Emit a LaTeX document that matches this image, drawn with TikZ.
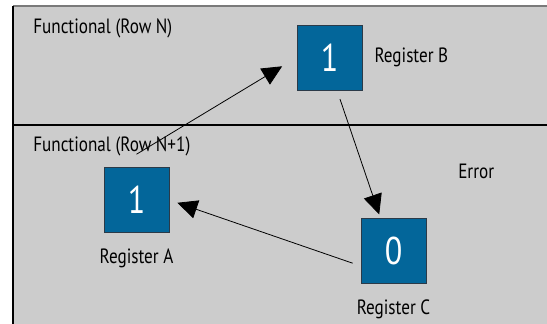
\documentclass[tikz,border=0pt]{standalone}
\usepackage{fontspec}
\setmainfont[FakeStretch=0.83]{PT Sans}
\usetikzlibrary{positioning, arrows.meta, calc}
\definecolor{panelgray}{HTML}{CCCCCC}
\definecolor{regblue}{HTML}{03669A}
\definecolor{regedge}{HTML}{2B3A48}
\definecolor{rimgray}{HTML}{7A7A7A}

\begin{document}
\begin{tikzpicture}[
    x=0.75pt, y=-0.75pt,
    reg/.style={draw=regedge, fill=regblue, minimum size=48.75pt, inner sep=0pt, text=white, font=\fontsize{29}{29}\selectfont},
    lbl/.style={inner sep=0pt, font=\fontsize{15.5}{17}\selectfont},
    flow/.style={-{Triangle[length=15pt, width=14pt]}, line width=0.6pt}
]
    \useasboundingbox (0,0) rectangle (547,324);
    % Panel and row divider
    \fill[panelgray] (13,6) rectangle (547,324);
    \draw[rimgray, line width=1.2pt] (13,6) -- (547,6);
    \draw[line width=0.9pt] (13,6) -- (13,324);
    \draw[line width=0.8pt] (13,125) -- (547,125);

    % Row labels
    \node[lbl, anchor=base west] (rowN) at (33,34) {Functional (Row N)};
    \node[lbl, anchor=base west] (rowN1) at (33,152) {Functional (Row N+1)};
    \node[lbl, anchor=base west] (err) at (458,179) {Error};

    % Registers
    \node[reg] (regB) at (329.5,57.5) {1};
    \node[reg] (regA) at (136.5,200) {1};
    \node[reg] (regC) at (393.5,251) {0};

    \node[lbl] (labB) [right=9pt of regB] {Register B};
    \node[lbl] (labA) [below=12pt of regA] {Register A};
    \node[lbl] (labC) [below=12pt of regC] {Register C};

    % Flow between registers
    \draw[flow, shorten >=12.75pt] ($(regA.north)+(0,-13)$) -- (regB.west);
    \draw[flow, shorten <=7pt, shorten >=3pt] ($(regB.south)+(7.5,0)$) -- ($(regC.north)+(-13,0)$);
    \draw[flow, shorten <=6.4pt, shorten >=6.4pt] ($(regC.west)+(0,15)$) -- (regA.east);
\end{tikzpicture}
\end{document}
